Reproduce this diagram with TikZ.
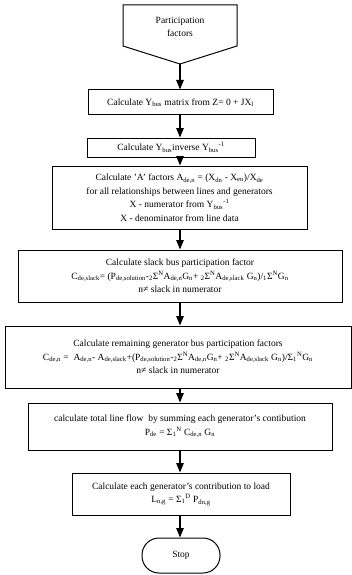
\documentclass[tikz,border=0pt]{standalone}
\usepackage{fontspec}
\setmainfont{Liberation Serif}
\usetikzlibrary{arrows.meta}
\newcommand{\sbs}[1]{\textsubscript{#1}}
\newcommand{\sps}[1]{\textsuperscript{#1}}
\begin{document}
\begin{tikzpicture}[x=1pt, y=-1pt, line width=1pt,
		box/.style={draw, rectangle, inner sep=0pt, align=center, font=\fontsize{9.5}{13.5}\selectfont},
		flow/.style={-{Triangle[width=7.5pt,length=9.5pt]}, line width=1.2pt}]
		\useasboundingbox (0,0) rectangle (352,575);

		% start: off-page connector
		\draw (123,5) -- (237,5) -- (237,46) -- (180,64) -- (123,46) -- cycle;
		\node[align=center, font=\fontsize{9.5}{13.5}\selectfont] (pf) at (180,27) {Participation\\factors};
		\coordinate (pftip) at (180,64);

		\node[box, minimum width=185pt, minimum height=25pt] (ybus) at (180.5,102.5)
			{Calculate Y\sbs{bus} matrix from Z= 0 + JX\sbs{l}};
		\node[box, minimum width=168pt, minimum height=19pt] (yinv) at (171,147.5)
			{Calculate Y\sbs{bus}inverse Y\sbs{bus}\sps{-1}};
		\node[box, minimum width=255pt, minimum height=63pt] (afac) at (179.5,197.5)
			{Calculate 'A' factors A\sbs{de,n} = (X\sbs{dn} - X\sbs{en})/X\sbs{de}\\
			 for all relationships between lines and generators\\
			 X - numerator from Y\sbs{bus}\sps{-1}\\
			 X - denominator from line data};
		\node[box, minimum width=324pt, minimum height=52pt] (slack) at (180,276)
			{Calculate slack bus participation factor\\
			 C\sbs{de,slack}= (P\sbs{de,solution}-\sbs{2}Σ\sps{N}A\sbs{de,n}G\sbs{n}+ \sbs{2}Σ\sps{N}A\sbs{de,slack} G\sbs{n})/\sbs{1}Σ\sps{N}G\sbs{n}\\
			 n≠ slack in numerator};
		\node[box, minimum width=346pt, minimum height=62pt] (remain) at (178,357)
			{Calculate remaining generator bus participation factors\\
			 C\sbs{de,n} =\ \ A\sbs{de,n}- A\sbs{de,slack}+(P\sbs{de,solution}-\sbs{2}Σ\sps{N}A\sbs{de,n}G\sbs{n}+ \sbs{2}Σ\sps{N}A\sbs{de,slack} G\sbs{n})/Σ\sbs{1}\sps{N}G\sbs{n}\\
			 n≠ slack in numerator};
		\node[box, minimum width=304pt, minimum height=47pt] (flowsum) at (180,426.5)
			{calculate total line flow\ \ by summing each generator's contibution\\
			 P\sbs{de} = Σ\sbs{1}\sps{N} C\sbs{de,n} G\sbs{n}};
		\node[box, minimum width=218pt, minimum height=42pt] (load) at (181,494)
			{Calculate each generator's contribution to load\\
			 L\sbs{n,g} = Σ\sbs{1}\sps{D} P\sbs{dn,g}};
		\node[box, rounded corners=17pt, minimum width=78pt, minimum height=35pt] (stop) at (181,555.5) {Stop};

		\draw[flow] (pftip) -- (ybus.north -| pftip);
		\foreach \a/\b in {ybus/yinv, yinv/afac, afac/slack, slack/remain, remain/flowsum, flowsum/load, load/stop} {
			\draw[flow] (\a.south -| pftip) -- (\b.north -| pftip);
		}
	\end{tikzpicture}
\end{document}
